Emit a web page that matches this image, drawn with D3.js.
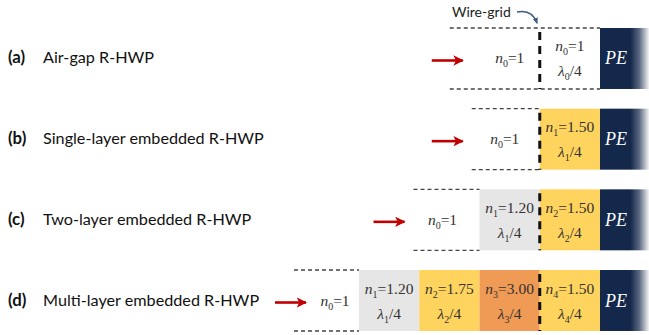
<!DOCTYPE html>
<html><head><meta charset="utf-8">
<script src="https://cdn.jsdelivr.net/npm/d3@7"></script>
<style>body{margin:0;background:#fff}</style>
</head><body>
<script>
// ---- data ----
const panels = ["(a)", "(b)", "(c)", "(d)"];
const titles = ["Air-gap R-HWP", "Single-layer embedded R-HWP", "Two-layer embedded R-HWP", "Multi-layer embedded R-HWP"];
// layers ordered from incident side toward PE
const layerSub = [[0], [1], [1, 2], [1, 2, 3, 4]];
const layerN = [["1"], ["1.50"], ["1.20", "1.50"], ["1.20", "1.75", "3.00", "1.50"]];
const incidentN = "1";
const backLabel = "PE";
const gridLabel = "Wire-grid";

// material colours keyed by index
const fillByN = {"1": "#ffffff", "1.20": "#e6e6e6", "1.50": "#ffd45e", "1.75": "#ffd45e", "3.00": "#ef9a55"};

const W = 649, H = 335;
const svg = d3.select("body").append("svg").attr("width", W).attr("height", H);
const defs = svg.append("defs");
const grad = defs.append("linearGradient").attr("id", "pe").attr("x1", 0).attr("x2", 1);
grad.append("stop").attr("offset", "0%").attr("stop-color", "#13284a");
grad.append("stop").attr("offset", "62%").attr("stop-color", "#13284a");
grad.append("stop").attr("offset", "80%").attr("stop-color", "#5a6781");
grad.append("stop").attr("offset", "100%").attr("stop-color", "#f4f4f4");
defs.append("marker").attr("id", "arr").attr("viewBox", "0 0 10 10").attr("refX", 9).attr("refY", 5)
  .attr("markerWidth", 4).attr("markerHeight", 4).attr("orient", "auto")
  .append("path").attr("d", "M0,0 L10,5 L0,10 L2.5,5 Z").attr("fill", "#c00000");
defs.append("marker").attr("id", "arrb").attr("viewBox", "0 0 10 10").attr("refX", 8).attr("refY", 5)
  .attr("markerWidth", 5).attr("markerHeight", 5).attr("orient", "auto")
  .append("path").attr("d", "M0,1 L10,5 L0,9 Z").attr("fill", "#3b5a82");

// scales
const x = d3.scaleLinear().domain([0, 4]).range([600, 359]); // layers counted back from PE
const y = d3.scaleBand().domain(panels).range([28, 331]).paddingInner(0.244).paddingOuter(0);
const bh = y.bandwidth();

const serif = "'Liberation Serif', 'Times New Roman', serif";
const sans = "Lato, 'Open Sans', sans-serif";

// per-row layout of incident side (distance from first layer edge)
const lead = [{dash: 90, arrow: 108, text: 30}, {dash: 68, arrow: 108, text: 35}, {dash: 66, arrow: 106, text: 37}, {dash: 65, arrow: 84, text: 24}];

function nLabel(g, cx, cy, sub, val) {
  const t = g.append("text").attr("x", cx).attr("y", cy).attr("text-anchor", "middle")
    .attr("font-family", serif).attr("font-size", 15.5).attr("fill", "#333");
  t.append("tspan").attr("font-style", "italic").text("n");
  t.append("tspan").attr("font-size", 10).attr("dy", 4).text(sub);
  t.append("tspan").attr("dy", -4).text("=" + val);
}
function lamLabel(g, cx, cy, sub) {
  const t = g.append("text").attr("x", cx).attr("y", cy).attr("text-anchor", "middle")
    .attr("font-family", serif).attr("font-size", 15.5).attr("fill", "#333");
  t.append("tspan").attr("font-style", "italic").text("λ");
  t.append("tspan").attr("font-size", 10).attr("dy", 4).text(sub);
  t.append("tspan").attr("dy", -4).text("/4");
}

panels.forEach((p, i) => {
  const g = svg.append("g");
  const top = y(p), cy = top + bh / 2;
  const nL = layerN[i].length;
  const left = x(nL);
  // title
  const tt = g.append("text").attr("x", 8).attr("y", cy + 5).attr("font-family", sans).attr("font-size", 16.2).attr("fill", "#111");
  tt.append("tspan").attr("font-weight", "bold").attr("font-size", 16.8).text(p);
  tt.append("tspan").attr("x", 43).text(titles[i]);
  // layers
  layerN[i].forEach((n, j) => {
    const k = nL - j; // position from PE
    const x0 = x(k), x1 = x(k - 1), mx = (x0 + x1) / 2;
    g.append("rect").attr("x", x0).attr("y", top).attr("width", x1 - x0).attr("height", bh).attr("fill", fillByN[n]);
    nLabel(g, mx, cy - 7, layerSub[i][j], n);
    lamLabel(g, mx, cy + 18, layerSub[i][j]);
  });
  // dashed outlines of incident medium
  const dStart = left - lead[i].dash;
  const dEnd = layerSub[i][0] === 0 ? x(0) : left;
  [top, top + bh].forEach(yy => g.append("line").attr("x1", dStart).attr("x2", dEnd).attr("y1", yy).attr("y2", yy)
    .attr("stroke", "#444").attr("stroke-width", 1.3).attr("stroke-dasharray", "4,3"));
  // incident medium label
  const it = g.append("text").attr("x", left - lead[i].text).attr("y", cy + 5).attr("text-anchor", "middle")
    .attr("font-family", serif).attr("font-size", 15.5).attr("fill", "#333");
  it.append("tspan").attr("font-style", "italic").text("n");
  it.append("tspan").attr("font-size", 10).attr("dy", 4).text("0");
  it.append("tspan").attr("dy", -4).text("=" + incidentN);
  // red arrow
  const ax = left - lead[i].arrow;
  g.append("line").attr("x1", ax).attr("x2", ax + 31).attr("y1", cy + 2).attr("y2", cy + 2)
    .attr("stroke", "#c00000").attr("stroke-width", 2.6).attr("marker-end", "url(#arr)");
  // PE
  g.append("rect").attr("x", x(0)).attr("y", top).attr("width", W - x(0)).attr("height", bh).attr("fill", "url(#pe)");
  g.append("text").attr("x", x(0) + 16).attr("y", cy + 6).attr("text-anchor", "middle").attr("font-family", serif)
    .attr("font-style", "italic").attr("font-size", 18).attr("fill", "#fff").text(backLabel);
  // wire grid
  g.append("line").attr("x1", x(1)).attr("x2", x(1)).attr("y1", top + 4).attr("y2", top + bh)
    .attr("stroke", "#111").attr("stroke-width", 3).attr("stroke-dasharray", "8,6");
});

// wire-grid label
svg.append("text").attr("x", 452).attr("y", 17).attr("font-family", sans).attr("font-size", 14).attr("fill", "#222").text(gridLabel);
svg.append("path").attr("d", `M517,12 Q532,9 537,23`).attr("fill", "none").attr("stroke", "#3b5a82").attr("stroke-width", 1.3)
  .attr("marker-end", "url(#arrb)");
</script>
</body></html>
